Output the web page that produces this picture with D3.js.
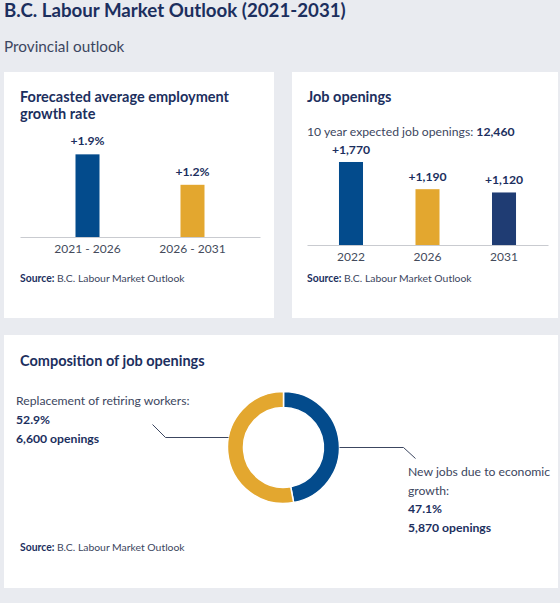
<!DOCTYPE html>
<html>
<head>
<meta charset="utf-8">
<script src="https://cdn.jsdelivr.net/npm/d3@7"></script>
<style>
  html, body { margin: 0; padding: 0; background: #e9ebf0; }
  svg { display: block; }
  text { font-family: "Lato", "Noto Sans", sans-serif; }
</style>
</head>
<body>
<div id="chart"></div>
<script>
// ---- data ----
const pageTitle = "B.C. Labour Market Outlook (2021-2031)";
const pageSubtitle = "Provincial outlook";
const sourceText = "B.C. Labour Market Outlook";

const growthCategories = ["2021 - 2026", "2026 - 2031"];
const growthValues = [1.9, 1.2];

const jobYears = ["2022", "2026", "2031"];
const jobValues = [1770, 1190, 1120];
const totalOpenings = 12460;

const compositionLabels = ["New jobs due to economic growth:", "Replacement of retiring workers:"];
const compositionShares = [47.1, 52.9];
const compositionOpenings = [5870, 6600];

// ---- styles ----
const C = {
  bg: "#e9ebf0", panel: "#ffffff", title: "#1c2f5e", text: "#3c4660",
  blue: "#034b8c", gold: "#e3a72f", navy: "#1f3c73", axis: "#c9cbd0", tick: "#444b5c"
};
const W = 560, H = 603;
const FONT = "Lato, 'Noto Sans', sans-serif";
const fmt = d3.format(",");

const svg = d3.select("#chart").append("svg").attr("width", W).attr("height", H);
svg.append("rect").attr("width", W).attr("height", H).attr("fill", C.bg);

svg.append("text").attr("x", 4).attr("y", 17).attr("fill", C.title)
  .attr("font-size", 18.7).attr("font-weight", 700).text(pageTitle);
svg.append("text").attr("x", 4).attr("y", 52).attr("fill", C.text)
  .attr("font-size", 15.3).text(pageSubtitle);

// panels
[[4, 72, 270, 246], [292, 72, 266, 246], [4, 335, 554, 253]].forEach(p => {
  svg.append("rect").attr("x", p[0]).attr("y", p[1]).attr("width", p[2]).attr("height", p[3]).attr("fill", C.panel);
});

function source(g, x, y) {
  const t = g.append("text").attr("x", x).attr("y", y).attr("fill", C.text).attr("font-size", 10.4);
  t.append("tspan").attr("font-weight", 700).attr("fill", C.title).text("Source: ");
  t.append("tspan").text(sourceText);
}

// ---- panel 1: growth rate ----
{
  const g = svg.append("g");
  const t = g.append("text").attr("x", 20).attr("fill", C.title).attr("font-size", 14.5).attr("font-weight", 700);
  t.append("tspan").attr("x", 20).attr("y", 102).text("Forecasted average employment");
  t.append("tspan").attr("x", 20).attr("y", 119).text("growth rate");

  const x = d3.scaleBand().domain(growthCategories).range([20, 260]).paddingInner(0.7714).paddingOuter(0.5286);
  const y = d3.scaleLinear().domain([0, 2]).range([237, 150]);
  const colors = [C.blue, C.gold];

  g.selectAll(".bar").data(growthValues).join("rect")
    .attr("x", (d, i) => x(growthCategories[i])).attr("width", x.bandwidth())
    .attr("y", d => y(d)).attr("height", d => y(0) - y(d)).attr("fill", (d, i) => colors[i]);
  g.selectAll(".val").data(growthValues).join("text")
    .attr("x", (d, i) => x(growthCategories[i]) + x.bandwidth() / 2).attr("y", d => y(d) - 9)
    .attr("text-anchor", "middle").attr("font-size", 12.2).attr("font-weight", 700).attr("fill", C.title)
    .text(d => "+" + d.toFixed(1) + "%");

  const ax = g.append("g").attr("transform", "translate(0,237)")
    .call(d3.axisBottom(x).tickSize(0).tickSizeOuter(0).tickPadding(7));
  ax.select(".domain").attr("stroke", C.axis);
  ax.selectAll("text").attr("font-size", 12).attr("fill", C.tick).attr("font-family", FONT);
  source(g, 20, 282);
}

// ---- panel 2: job openings ----
{
  const g = svg.append("g");
  g.append("text").attr("x", 307).attr("y", 102).attr("fill", C.title).attr("font-size", 14.5).attr("font-weight", 700).text("Job openings");
  const st = g.append("text").attr("x", 307).attr("y", 136).attr("fill", C.text).attr("font-size", 12.2);
  st.append("tspan").text("10 year expected job openings: ");
  st.append("tspan").attr("font-weight", 700).attr("fill", C.title).text(fmt(totalOpenings));

  const x = d3.scaleBand().domain(jobYears).range([307, 548]).paddingInner(0.686).paddingOuter(0.418);
  const y = d3.scaleLinear().domain([0, 2000]).range([245, 151.2]);
  const colors = [C.blue, C.gold, C.navy];

  g.selectAll(".bar").data(jobValues).join("rect")
    .attr("x", (d, i) => x(jobYears[i])).attr("width", x.bandwidth())
    .attr("y", d => y(d)).attr("height", d => y(0) - y(d)).attr("fill", (d, i) => colors[i]);
  g.selectAll(".val").data(jobValues).join("text")
    .attr("x", (d, i) => x(jobYears[i]) + x.bandwidth() / 2).attr("y", d => y(d) - 8)
    .attr("text-anchor", "middle").attr("font-size", 12.2).attr("font-weight", 700).attr("fill", C.title)
    .text(d => "+" + fmt(d));

  const ax = g.append("g").attr("transform", "translate(0,245)")
    .call(d3.axisBottom(x).tickSize(0).tickSizeOuter(0).tickPadding(7));
  ax.select(".domain").attr("stroke", C.axis);
  ax.selectAll("text").attr("font-size", 12).attr("fill", C.tick).attr("font-family", FONT);
  source(g, 307, 282);
}

// ---- panel 3: composition donut ----
{
  const g = svg.append("g");
  g.append("text").attr("x", 20).attr("y", 366).attr("fill", C.title).attr("font-size", 14.5).attr("font-weight", 700).text("Composition of job openings");

  const cx = 283.5, cy = 447.5, rOut = 56, rIn = 40;
  const pie = d3.pie().sort(null).value(d => d);
  const arc = d3.arc().innerRadius(rIn).outerRadius(rOut);
  const colors = [C.blue, C.gold];
  g.append("g").attr("transform", `translate(${cx},${cy})`)
    .selectAll("path").data(pie(compositionShares)).join("path")
    .attr("d", arc).attr("fill", (d, i) => colors[i]).attr("stroke", "#fff").attr("stroke-width", 1.5);

  const line = d3.line();
  g.append("path").attr("d", line([[cx + rOut, cy], [cx + 120, cy], [cx + 132, cy + 11]]))
    .attr("fill", "none").attr("stroke", C.text).attr("stroke-width", 1);
  g.append("path").attr("d", line([[cx - rOut + 1, cy - 10], [cx - 118, cy - 10], [cx - 131, cy - 23]]))
    .attr("fill", "none").attr("stroke", C.text).attr("stroke-width", 1);

  const lt = g.append("text").attr("font-size", 12.2).attr("fill", C.text);
  lt.append("tspan").attr("x", 16).attr("y", 405).text(compositionLabels[1]);
  lt.append("tspan").attr("x", 16).attr("y", 424).attr("font-weight", 700).attr("fill", C.title).text(compositionShares[1].toFixed(1) + "%");
  lt.append("tspan").attr("x", 16).attr("y", 443).attr("font-weight", 700).attr("fill", C.title).text(fmt(compositionOpenings[1]) + " openings");

  const words = compositionLabels[0].split(" ");
  const rt = g.append("text").attr("font-size", 12.2).attr("fill", C.text);
  rt.append("tspan").attr("x", 408).attr("y", 476).text(words.slice(0, 5).join(" "));
  rt.append("tspan").attr("x", 408).attr("y", 494.5).text(words.slice(5).join(" "));
  rt.append("tspan").attr("x", 408).attr("y", 513).attr("font-weight", 700).attr("fill", C.title).text(compositionShares[0].toFixed(1) + "%");
  rt.append("tspan").attr("x", 408).attr("y", 532).attr("font-weight", 700).attr("fill", C.title).text(fmt(compositionOpenings[0]) + " openings");

  source(g, 20, 551);
}
</script>
</body>
</html>
